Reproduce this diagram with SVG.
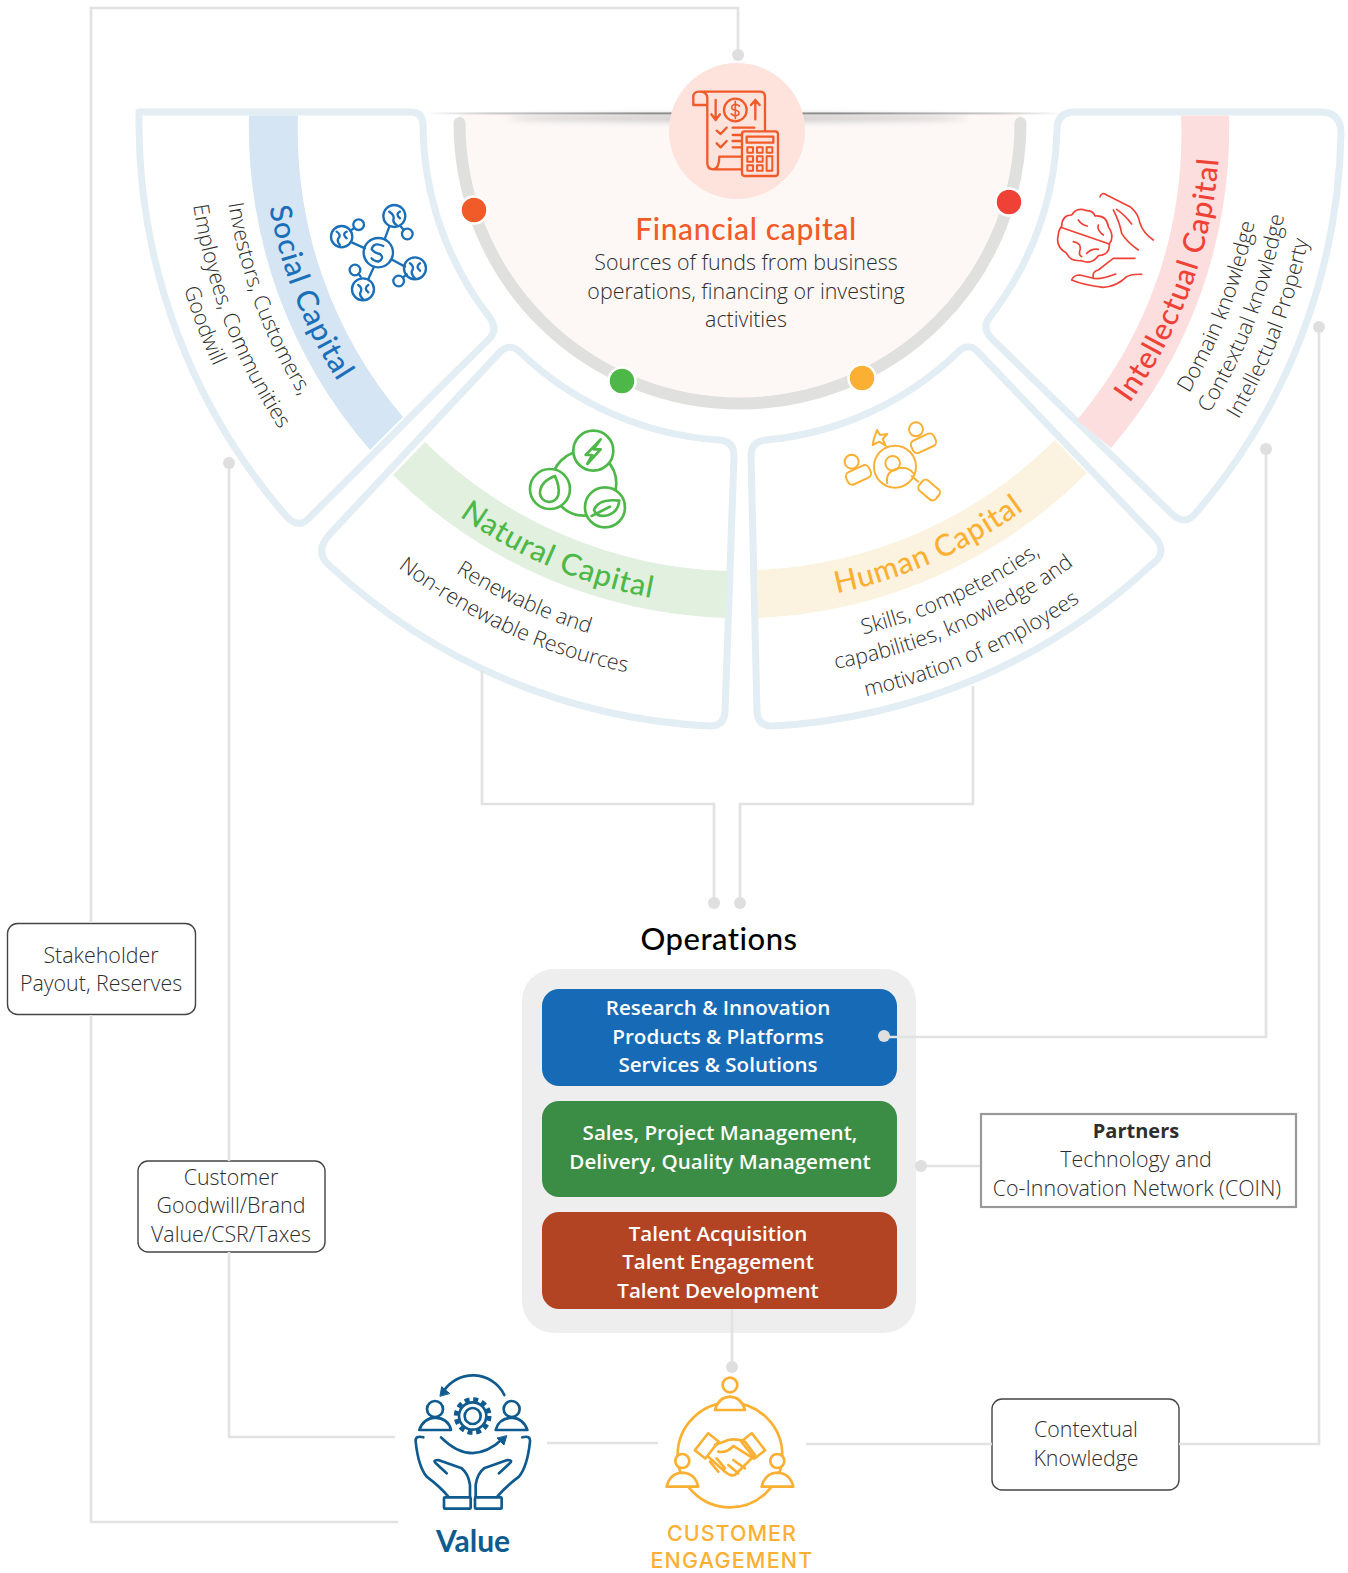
<svg xmlns="http://www.w3.org/2000/svg" width="1348" height="1573" viewBox="0 0 1348 1573">
<style>
text{font-family:"Open Sans","Liberation Sans",sans-serif}
.panel{fill:#fff;stroke:#e3edf4;stroke-width:7;stroke-linejoin:round}
.body{font-size:21.4px;font-weight:300;fill:#2e2e2e}
.arc{font-size:21.4px;font-weight:300;fill:#2e2e2e;text-anchor:middle}
.title{font-family:Lato,"Open Sans",sans-serif;font-size:30px;font-weight:500;letter-spacing:.9px;text-anchor:middle}
.c{text-anchor:middle}
.ops{font-size:20.6px;font-weight:600;fill:#fff;text-anchor:middle}
.box{fill:#fff;stroke:#444;stroke-width:1.4}
.conn{fill:none;stroke:#e2e2e2;stroke-width:2.6}
.dot{fill:#dfdfdf}
.ico{fill:none;stroke-linecap:round;stroke-linejoin:round}
.mark{stroke:#fff;stroke-width:2.5}
</style>
<defs>
<linearGradient id="sh" x1="0" x2="1" y1="0" y2="0"><stop offset="0" stop-color="#ccc" stop-opacity="0"/><stop offset=".1" stop-color="#ccc"/><stop offset=".35" stop-color="#8f8f8f"/><stop offset=".65" stop-color="#8f8f8f"/><stop offset=".9" stop-color="#ccc"/><stop offset="1" stop-color="#ccc" stop-opacity="0"/></linearGradient>
<filter id="bl" x="-5%" y="-100%" width="110%" height="300%"><feGaussianBlur stdDeviation="3"/></filter>
<path id="r478" d="M326,362A478,478 0 0 0 1154,362"/>
<path id="r480" d="M324.3,363A480,480 0 0 0 1155.7,363"/>
<path id="r483" d="M321.7,364.5A483,483 0 0 0 1158.3,364.5"/>
<path id="r518" d="M291.4,382A518,518 0 0 0 1188.6,382"/>
<path id="r524" d="M286.2,385A524,524 0 0 0 1193.8,385"/>
<path id="r526" d="M284.5,386A526,526 0 0 0 1195.5,386"/>
<path id="r532" d="M279.3,389A532,532 0 0 0 1200.7,389"/>
<path id="r552" d="M262,399A552,552 0 0 0 1218,399"/>
<path id="r553" d="M261.1,399.5A553,553 0 0 0 1218.9,399.5"/>
<path id="r554" d="M260.2,400A554,554 0 0 0 1219.8,400"/>
<path id="r561" d="M254.2,403.5A561,561 0 0 0 1225.8,403.5"/>
<path id="r580" d="M237.7,413A580,580 0 0 0 1242.3,413"/>
<path id="r587" d="M231.6,416.5A587,587 0 0 0 1248.4,416.5"/>
</defs>
<rect width="1348" height="1573" fill="#fff"/>

<g id="social-capital">
<path class="panel" d="M139,112H410Q423,112 423,125A318,318 0 0 0 490,318Q498,329 490,338L307,520Q298,528 287,517A600,600 0 0 1 139,125Z"/>
<path fill="#d5e5f3" d="M249,115.5H298A442,442 0 0 0 403,417L370,450A491,491 0 0 1 249,115.5Z"/>
<text class="title" fill="#1a6fb8" transform="rotate(68.5 740 123)"><textPath href="#r478" startOffset="50%">Social Capital</textPath></text>
<text class="arc" transform="rotate(69.6 740 123)"><textPath href="#r518" startOffset="50%">Investors, Customers,</textPath></text>
<text class="arc" transform="rotate(68.9 740 123)"><textPath href="#r553" startOffset="50%">Employees, Communities</textPath></text>
<text class="arc" transform="rotate(69.3 740 123)"><textPath href="#r580" startOffset="50%">Goodwill</textPath></text>
<g class="ico" transform="translate(120 90) scale(.3333)" stroke="#1a6fb8" stroke-width="7">
<circle cx="775" cy="488" r="44"/><circle cx="665" cy="440" r="32"/><circle cx="823" cy="378" r="33"/><circle cx="885" cy="535" r="33"/><circle cx="729" cy="598" r="33"/>
<circle cx="716" cy="404" r="16"/><circle cx="862" cy="432" r="16"/><circle cx="705" cy="540" r="16"/><circle cx="836" cy="573" r="16"/>
<path d="M697,458L735,475M808,410L795,445M818,510L855,530M762,530L745,567M692,422L700,416M843,410L851,419M716,552L722,560M852,560L860,553"/>
<path d="M790,468Q760,455 755,478Q765,490 780,492Q795,505 775,515Q760,512 755,505"/>
<path d="M650,425Q665,435 655,445Q650,455 660,465M680,425Q665,432 680,445M808,365Q825,375 820,390Q820,400 830,405M840,365Q825,372 840,385M870,520Q885,530 875,545Q875,555 885,565M900,520Q885,530 900,542M715,585Q730,595 720,610Q720,620 730,628M745,585Q730,595 745,607"/>
</g>
</g>

<g id="natural-capital">
<path class="panel" d="M500,352Q510,342 521,353A318,318 0 0 0 719,440Q734,441 734,456L725,712Q724,726 710,726A603,603 0 0 1 330,566L326,562Q316,550 329,535Z"/>
<path fill="#e2f0e0" d="M425,442A448,448 0 0 0 728,571L726,618A495,495 0 0 1 393,475Z"/>
<text class="title" fill="#4db848" transform="rotate(23 740 123)"><textPath href="#r483" startOffset="50%">Natural Capital</textPath></text>
<text class="arc" transform="rotate(24.4 740 123)"><textPath href="#r532" startOffset="50%">Renewable and</textPath></text>
<text class="arc" transform="rotate(24.6 740 123)"><textPath href="#r561" startOffset="50%">Non-renewable Resources</textPath></text>
<g class="ico" transform="translate(310 340) scale(.3333)" stroke="#4db848" stroke-width="8">
<circle cx="822" cy="430" r="97"/>
<g fill="#fff"><circle cx="850" cy="332" r="60"/><circle cx="720" cy="447" r="60"/><circle cx="885" cy="502" r="60"/></g>
<path d="M872,298L827,345H847L832,372L872,328H851Z"/>
<path d="M735,408Q690,425 690,460A28,28 0 0 0 745,465Q750,440 735,408Z"/>
<path d="M928,482Q865,475 852,510Q862,535 895,525Q925,515 928,482ZM845,528L900,500"/>
</g>
</g>

<g id="human-capital">
<path class="panel" d="M978,352Q968,341 957,353A318,318 0 0 1 766,440Q751,441 751,456L757,712Q758,726 772,726A603,603 0 0 0 1150,566L1155,562Q1168,550 1153,535Z"/>
<path fill="#fbf3e0" d="M757,570A448,448 0 0 0 1055,440L1087,473A495,495 0 0 1 758,618Z"/>
<text class="title" fill="#fbb034" transform="rotate(-24 740 123)"><textPath href="#r480" startOffset="50%">Human Capital</textPath></text>
<text class="arc" transform="rotate(-24.2 740 123)"><textPath href="#r526" startOffset="50%">Skills, competencies,</textPath></text>
<text class="arc" transform="rotate(-23.5 740 123)"><textPath href="#r554" startOffset="50%">capabilities, knowledge and</textPath></text>
<text class="arc" transform="rotate(-23.9 740 123)"><textPath href="#r587" startOffset="50%">motivation of employees</textPath></text>
<g class="ico" transform="translate(740 340) scale(.3333)" stroke="#fbb034" stroke-width="6">
<circle cx="465" cy="380" r="63"/><circle cx="458" cy="370" r="22"/>
<path d="M442,430Q435,395 475,385Q505,378 522,402M515,408L535,425"/>
<rect x="535" y="430" width="65" height="40" rx="13" transform="rotate(40 567 450)"/>
<circle cx="335" cy="365" r="21"/><rect x="318" y="385" width="75" height="40" rx="14" transform="rotate(-25 355 405)"/>
<circle cx="528" cy="268" r="21"/><rect x="513" y="290" width="75" height="40" rx="14" transform="rotate(-25 550 310)"/>
<path d="M411,270L420,285L442,282L428,297L437,317L418,305L398,315L402,296Z"/>
</g>
</g>

<g id="intellectual-capital">
<path class="panel" d="M1075,112H1320Q1341,112 1341,133A600,600 0 0 1 1195,514Q1185,526 1172,514L991,338Q982,328 989,318A318,318 0 0 0 1057,130Q1057,112 1075,112Z"/>
<path fill="#fcdede" d="M1181,115.5H1229A489,489 0 0 1 1111,448L1077,420A441,441 0 0 0 1181,115.5Z"/>
<text class="title" fill="#ef4136" transform="rotate(-70 740 123)"><textPath href="#r480" startOffset="50%">Intellectual Capital</textPath></text>
<text class="arc" transform="rotate(-69 740 123)"><textPath href="#r524" startOffset="50%">Domain knowledge</textPath></text>
<text class="arc" transform="rotate(-69.3 740 123)"><textPath href="#r552" startOffset="50%">Contextual knowledge</textPath></text>
<text class="arc" transform="rotate(-68.8 740 123)"><textPath href="#r580" startOffset="50%">Intellectual Property</textPath></text>
<g class="ico" transform="translate(950 90) scale(.3333)" stroke="#ef4136" stroke-width="5">
<path d="M335,410Q335,375 365,375Q380,350 410,362Q430,362 435,378Q470,375 475,410Q495,440 478,462Q480,495 445,497Q425,525 395,512Q360,515 350,490Q315,470 325,435Q325,420 335,410Z"/>
<path d="M332,412L478,462M385,390Q395,405 412,408M445,405Q440,420 460,435M370,455Q395,460 390,480Q385,495 395,500M410,490Q425,475 445,478"/>
<path d="M450,320Q455,305 470,315L540,350Q565,370 570,400Q580,430 610,450M490,360Q510,400 515,430Q530,455 565,480M500,358Q525,375 545,402"/>
<path d="M365,570Q370,555 390,555L430,565Q450,570 497,552M430,565Q425,545 445,540Q470,520 490,505H555M365,570Q400,585 460,592Q500,590 530,560Q545,552 575,553"/>
</g>
</g>

<g id="financial-capital">
<path fill="#fdf8f6" d="M459,114V123A281,281 0 0 0 1021,123V114Z"/>
<ellipse cx="737" cy="118" rx="230" ry="4" fill="#aaa" opacity=".55" filter="url(#bl)"/>
<rect x="425" y="112.4" width="640" height="2" fill="url(#sh)"/>
<path fill="none" stroke="#e0e0de" stroke-width="12" stroke-linecap="round" d="M459.5,123A280.5,280.5 0 0 0 1020.5,123"/>
<circle cx="737" cy="131" r="68" fill="#fde3dc"/>
<g class="ico" transform="translate(620 60) scale(.3333)" stroke="#f15a29" stroke-width="7">
<path d="M262,135V310Q262,328 280,328H365M238,95H420Q435,95 435,110V215M238,95Q218,95 220,115V135H262V115Q262,95 238,95M280,328Q298,325 298,290H365"/>
<path d="M287,120V178M274,163L287,180L300,163M406,178V120M393,135L406,120L419,135"/>
<circle cx="346" cy="150" r="34"/>
<path d="M358,138Q346,128 336,138Q332,150 346,150Q360,152 356,164Q346,172 334,162M346,124V176" stroke-width="5"/>
<path d="M290,212L302,222L320,203M290,250L302,262L320,243M338,203H403M338,225H365M338,243H365M338,262H365"/>
<rect x="366" y="214" width="108" height="134" rx="8" fill="#fde3dc"/>
<rect x="380" y="230" width="80" height="18"/>
<g stroke-width="6"><rect x="382" y="262" width="17" height="16"/><rect x="411" y="262" width="17" height="16"/><rect x="440" y="262" width="17" height="16"/><rect x="382" y="289" width="17" height="16"/><rect x="411" y="289" width="17" height="16"/><rect x="382" y="316" width="17" height="16"/><rect x="411" y="316" width="17" height="16"/><rect x="440" y="289" width="17" height="43"/></g>
</g>
<text class="title" x="746" y="240" fill="#f15a29" style="letter-spacing:.65px">Financial capital</text>
<text class="body c" x="746" y="270">Sources of funds from business</text>
<text class="body c" x="746" y="299">operations, financing or investing</text>
<text class="body c" x="746" y="327">activities</text>
<circle class="mark" cx="474" cy="210" r="13.5" fill="#f15a29"/>
<circle class="mark" cx="1009" cy="202" r="13.5" fill="#ef4136"/>
<circle class="mark" cx="622" cy="381" r="13.5" fill="#4db848"/>
<circle class="mark" cx="862" cy="378" r="13.5" fill="#fbb034"/>
</g>

<g id="operations">
<text x="719" y="950" class="c" style="font-family:Lato,sans-serif;font-size:31px;font-weight:500;letter-spacing:.5px" fill="#000">Operations</text>
<rect x="522" y="969" width="394" height="364" rx="32" fill="#eee"/>
<rect x="542" y="989" width="355" height="97" rx="17" fill="#176ab5"/>
<rect x="542" y="1101" width="355" height="96" rx="17" fill="#3b8c44"/>
<rect x="542" y="1212" width="355" height="97" rx="17" fill="#b34423"/>
<text class="ops" x="718" y="1015">Research &amp; Innovation</text>
<text class="ops" x="718" y="1044">Products &amp; Platforms</text>
<text class="ops" x="718" y="1072">Services &amp; Solutions</text>
<text class="ops" x="720" y="1140">Sales, Project Management,</text>
<text class="ops" x="720" y="1169">Delivery, Quality Management</text>
<text class="ops" x="718" y="1241">Talent Acquisition</text>
<text class="ops" x="718" y="1269">Talent Engagement</text>
<text class="ops" x="718" y="1298">Talent Development</text>
</g>

<g id="stakeholder-box">
<rect class="box" x="7.5" y="923.5" width="188" height="91" rx="10"/>
<text class="body c" x="101" y="963">Stakeholder</text>
<text class="body c" x="101" y="991">Payout, Reserves</text>
</g>
<g id="customer-box">
<rect class="box" x="138" y="1161" width="187" height="91" rx="10"/>
<text class="body c" x="231" y="1185">Customer</text>
<text class="body c" x="231" y="1213">Goodwill/Brand</text>
<text class="body c" x="231" y="1242">Value/CSR/Taxes</text>
</g>
<g id="partners-box">
<rect x="981" y="1114" width="315" height="93" fill="#fff" stroke="#999" stroke-width="2.2"/>
<text class="body c" x="1136" y="1138" style="font-weight:700;font-size:20px">Partners</text>
<text class="body c" x="1136" y="1167">Technology and</text>
<text class="body c" x="1137" y="1196">Co-Innovation Network (COIN)</text>
</g>
<g id="contextual-box">
<rect class="box" x="992" y="1399" width="187" height="91" rx="10"/>
<text class="body c" x="1086" y="1437">Contextual</text>
<text class="body c" x="1086" y="1466">Knowledge</text>
</g>

<g id="value">
<g class="ico" transform="translate(390 1340) scale(.3333)" stroke="#0f5a8f" stroke-width="8">
<path d="M343,165A105,105 0 0 0 160,155"/><path d="M150,168L155,140L178,160Z" fill="#0f5a8f" stroke-width="3"/>
<path d="M153,292Q245,385 340,295"/><path d="M350,288L342,315L322,295Z" fill="#0f5a8f" stroke-width="3"/>
<circle cx="248" cy="228" r="24"/><circle cx="248" cy="228" r="41"/><circle cx="248" cy="228" r="50" stroke-width="13" stroke-dasharray="15 11.2" stroke-linecap="butt"/>
<circle cx="135" cy="207" r="24"/><path d="M88,270Q100,235 135,233Q175,235 183,270Z"/>
<circle cx="365" cy="207" r="24"/><path d="M317,270Q325,235 365,233Q400,235 412,270Z"/>
<path d="M100,292Q75,285 77,305Q85,380 110,410Q150,440 175,470M240,470V435Q235,400 215,385L145,360Q125,360 140,372L170,400"/><rect x="162" y="472" width="80" height="34" rx="3"/>
<g transform="matrix(-1 0 0 1 497 0)"><path d="M100,292Q75,285 77,305Q85,380 110,410Q150,440 175,470M240,470V435Q235,400 215,385L145,360Q125,360 140,372L170,400"/><rect x="162" y="472" width="80" height="34" rx="3"/></g>
</g>
<text x="473" y="1552" class="c" style="font-family:Lato,sans-serif;font-size:30px;font-weight:700" fill="#0f5a8f">Value</text>
</g>

<g id="customer-engagement">
<g class="ico" transform="translate(390 1340) scale(.3333)" stroke="#fbb034" stroke-width="8">
<circle cx="1020" cy="345" r="157"/>
<g fill="#fff"><circle cx="1020" cy="135" r="22"/><path d="M975,210Q985,172 1020,170Q1055,172 1065,210Z"/>
<circle cx="877" cy="363" r="21"/><path d="M830,440Q840,400 877,398Q915,400 925,440Z"/>
<circle cx="1162" cy="363" r="21"/><path d="M1115,440Q1125,400 1162,398Q1200,400 1210,440Z"/></g>
<rect x="930" y="285" width="40" height="65" transform="rotate(38 950 318)"/>
<rect x="1070" y="285" width="40" height="65" transform="rotate(-38 1090 318)"/>
<path d="M975,315L1015,300Q1040,295 1065,305L1095,345L1035,405Q1020,410 1005,395L955,350M985,335Q1010,340 1030,318L1090,355M1065,385L1030,360M1045,400L1015,375M960,365L985,395M980,355L1005,385"/>
</g>
<text x="732" y="1541" class="c" style="font-family:Inter,sans-serif;font-size:21.5px;font-weight:500;letter-spacing:1px" fill="#fbb034">CUSTOMER</text>
<text x="732" y="1567.5" class="c" style="font-family:Inter,sans-serif;font-size:21.5px;font-weight:500;letter-spacing:1.2px" fill="#fbb034">ENGAGEMENT</text>
</g>

<g id="connectors">
<path class="conn" d="M738,55V8H91V923M91,1015V1522H398"/>
<path class="conn" d="M229,463V1161M229,1252V1437H395"/>
<path class="conn" d="M482,671V804H714V903"/>
<path class="conn" d="M973,686V804H740V903"/>
<path class="conn" d="M884,1037H1266V449"/>
<path class="conn" d="M921,1166H980"/>
<path class="conn" d="M732,1309V1367"/>
<path class="conn" d="M547,1443H658"/>
<path class="conn" d="M806,1444H992M1179,1444H1319V327"/>
<g class="dot"><circle cx="738" cy="55" r="6"/><circle cx="229" cy="463" r="6"/><circle cx="1266" cy="449" r="6"/><circle cx="1319" cy="327" r="6"/><circle cx="714" cy="903" r="6"/><circle cx="740" cy="903" r="6"/><circle cx="884" cy="1036" r="6"/><circle cx="921" cy="1166" r="6"/><circle cx="732" cy="1367" r="6"/></g>
</g>
</svg>
